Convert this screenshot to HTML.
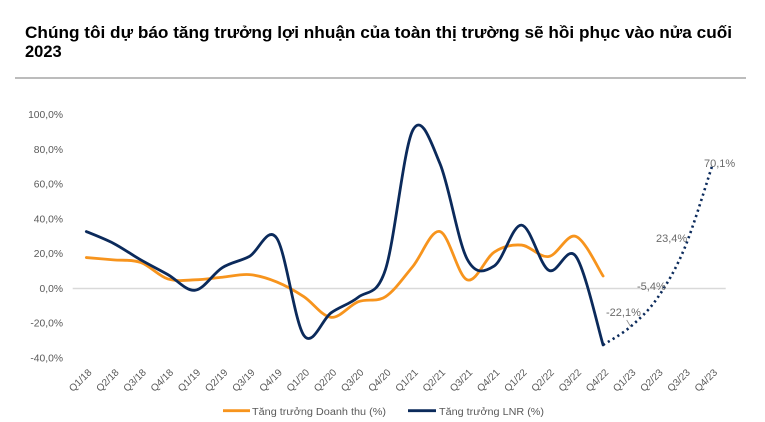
<!DOCTYPE html>
<html>
<head>
<meta charset="utf-8">
<style>
html,body{margin:0;padding:0;background:#fff;}
body{width:765px;height:422px;overflow:hidden;}
svg{display:block;}
text{font-family:"Liberation Sans",Arial,sans-serif;}
</style>
</head>
<body>
<svg id="c" width="765" height="422" viewBox="0 0 765 422" xmlns="http://www.w3.org/2000/svg">
  <rect width="765" height="422" fill="#fff"/>
  <!-- Title -->
  <text x="25" y="38" font-size="16.5" font-weight="bold" fill="#000" textLength="707" lengthAdjust="spacingAndGlyphs">Chúng tôi dự báo tăng trưởng lợi nhuận của toàn thị trường sẽ hồi phục vào nửa cuối</text>
  <text x="25" y="57" font-size="16.5" font-weight="bold" fill="#000">2023</text>
  <line x1="15" y1="78" x2="746" y2="78" stroke="#a6a6a6" stroke-width="1.5"/>

  <!-- zero gridline -->
  <line x1="72.7" y1="288.5" x2="725.7" y2="288.5" stroke="#d9d9d9" stroke-width="1.5"/>

  <!-- Y labels -->
  <g font-size="10.3" fill="#595959" text-anchor="end">
    <text x="63" y="118.2">100,0%</text>
    <text x="63" y="152.9">80,0%</text>
    <text x="63" y="187.7">60,0%</text>
    <text x="63" y="222.4">40,0%</text>
    <text x="63" y="257.2">20,0%</text>
    <text x="63" y="292.0">0,0%</text>
    <text x="63" y="326.7">-20,0%</text>
    <text x="63" y="361.5">-40,0%</text>
  </g>

  <g id="xl" font-size="10" fill="#595959" text-anchor="end"></g>

  <path id="orange" fill="none" stroke="#f7941d" stroke-width="2.8" stroke-linecap="round" stroke-linejoin="round"/>
  <path id="navy" fill="none" stroke="#0b2a5b" stroke-width="2.8" stroke-linecap="round" stroke-linejoin="round"/>
  <path id="dots" fill="none" stroke="#0b2a5b" stroke-width="2.6" stroke-dasharray="2.2 3.4"/>

  <!-- data labels -->
  <g font-size="11" fill="#6b6b6b">
    <text x="704" y="167">70,1%</text>
    <text x="656" y="242">23,4%</text>
    <text x="637" y="290">-5,4%</text>
    <text x="606" y="316">-22,1%</text>
  </g>
  <line x1="626.7" y1="320" x2="630.7" y2="326.7" stroke="#8c8c8c" stroke-width="0.8"/>

  <!-- legend -->
  <line x1="223" y1="410.7" x2="250" y2="410.7" stroke="#f7941d" stroke-width="2.8"/>
  <text x="252" y="415" font-size="10" fill="#595959" textLength="134" lengthAdjust="spacingAndGlyphs">Tăng trưởng Doanh thu (%)</text>
  <line x1="408" y1="410.7" x2="436" y2="410.7" stroke="#0b2a5b" stroke-width="2.8"/>
  <text x="439" y="415" font-size="10" fill="#595959" textLength="105" lengthAdjust="spacingAndGlyphs">Tăng trưởng LNR (%)</text>
</svg>
<script>
(function(){
  var Z=288.5,K=1.737,X0=86.3,S=27.2;
  function px(i){return X0+S*i;}
  function py(v){return Z-v*K;}
  var cats=["Q1/18","Q2/18","Q3/18","Q4/18","Q1/19","Q2/19","Q3/19","Q4/19","Q1/20","Q2/20","Q3/20","Q4/20","Q1/21","Q2/21","Q3/21","Q4/21","Q1/22","Q2/22","Q3/22","Q4/22","Q1/23","Q2/23","Q3/23","Q4/23"];
  var g=document.getElementById('xl');
  var ns="http://www.w3.org/2000/svg";
  for(var i=0;i<cats.length;i++){
    var t=document.createElementNS(ns,'text');
    var ax=px(i)+6, ay=373;
    t.setAttribute('x',ax);t.setAttribute('y',ay);
    t.setAttribute('transform','rotate(-45 '+ax+' '+ay+')');
    t.textContent=cats[i];
    g.appendChild(t);
  }
  function cr(pts){
    var d='M'+pts[0][0].toFixed(2)+','+pts[0][1].toFixed(2);
    for(var i=0;i<pts.length-1;i++){
      var p0=pts[i-1]||pts[i],p1=pts[i],p2=pts[i+1],p3=pts[i+2]||pts[i+1];
      var c1x=p1[0]+(p2[0]-p0[0])/6,c1y=p1[1]+(p2[1]-p0[1])/6;
      var c2x=p2[0]-(p3[0]-p1[0])/6,c2y=p2[1]-(p3[1]-p1[1])/6;
      d+=' C'+c1x.toFixed(2)+','+c1y.toFixed(2)+' '+c2x.toFixed(2)+','+c2y.toFixed(2)+' '+p2[0].toFixed(2)+','+p2[1].toFixed(2);
    }
    return d;
  }
  function mk(vals,start){var a=[];for(var i=0;i<vals.length;i++)a.push([px(i+(start||0)),py(vals[i])]);return a;}
  var navy=[32.8,26,16.5,8,-1,12,18.5,29,-27,-14,-5,11,91,72,17,13,36.5,10.5,18.5,-32.5];
  var orange=[17.8,16.5,15,5.5,5,6.5,8,3.8,-4.7,-16.6,-7.6,-4.7,12.6,32.8,5,21,25,18.4,30,7.2];
  var dots=[-32.5,-22.1,-5.4,23.4,70.1];
  document.getElementById('navy').setAttribute('d',cr(mk(navy)));
  document.getElementById('orange').setAttribute('d',cr(mk(orange)));
  document.getElementById('dots').setAttribute('d',cr(mk(dots,19)));
})();
</script>
</body>
</html>
